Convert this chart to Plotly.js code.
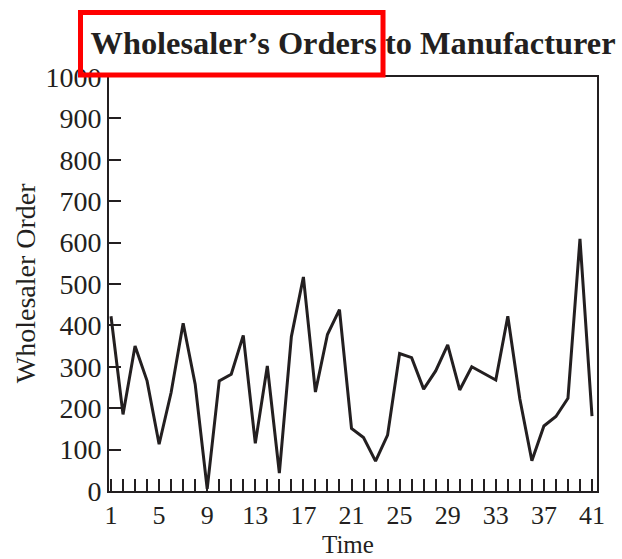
<!DOCTYPE html>
<html>
<head>
<meta charset="utf-8">
<script src="https://cdn.plot.ly/plotly-3.0.1.min.js"></script>
<style>html,body{margin:0;padding:0;background:#fff;}#chart{width:622px;height:559px;}</style>
</head>
<body>
<div id="chart"></div>
<script>
const time = [];
for (let t = 1; t <= 41; t++) time.push(t);
const wholesalerOrder = [422, 185, 350, 266, 113, 238, 405, 258, 5, 266,
  282, 376, 115, 302, 43, 373, 517, 239, 378, 438,
  151, 129, 72, 135, 332, 322, 246, 290, 353, 244,
  300, 284, 268, 422, 222, 73, 157, 180, 224, 609, 181];
const xTickVals = [1, 5, 9, 13, 17, 21, 25, 29, 33, 37, 41];
const yTickVals = [0, 100, 200, 300, 400, 500, 600, 700, 800, 900, 1000];
const chartTitle = "Wholesaler’s Orders to Manufacturer";
const xTitle = "Time";
const yTitle = "Wholesaler Order";

const ink = "#231f20";
const serif = "'Liberation Serif', 'Times New Roman', serif";

const trace = {
  x: time, y: wholesalerOrder, type: 'scatter', mode: 'lines',
  line: {color: ink, width: 3}, hoverinfo: 'skip'
};

const layout = {
  width: 622, height: 559,
  margin: {l: 109, r: 25, t: 77, b: 68},
  paper_bgcolor: '#fff', plot_bgcolor: '#fff',
  showlegend: false,
  title: {
    text: '<b>' + chartTitle + '</b>',
    font: {family: serif, size: 32.4, color: ink},
    xref: 'paper', x: 0.5, xanchor: 'center',
    yref: 'container', y: 0.924, yanchor: 'middle'
  },
  xaxis: {
    range: [0.834, 41.416], showgrid: false, zeroline: false,
    tickmode: 'array', tickvals: xTickVals,
    ticks: 'inside', ticklen: 12, tickwidth: 2, tickcolor: ink,
    minor: {tickmode: 'linear', tick0: 1, dtick: 1, ticks: 'inside', ticklen: 12, tickwidth: 2, tickcolor: ink},
    showline: true, linecolor: ink, linewidth: 2, mirror: true,
    tickfont: {family: serif, size: 26, color: ink}
  },
  yaxis: {
    range: [0, 1000], showgrid: false, zeroline: false,
    tickmode: 'array', tickvals: yTickVals,
    ticks: 'inside', ticklen: 12, tickwidth: 2, tickcolor: ink,
    showline: true, linecolor: ink, linewidth: 2, mirror: true,
    tickfont: {family: serif, size: 28, color: ink}
  },
  annotations: [
    {text: xTitle, xref: 'paper', yref: 'paper', x: 0.49, y: -0.1643,
     xanchor: 'center', yanchor: 'bottom', showarrow: false, borderpad: 0,
     font: {family: serif, size: 25, color: ink}},
    {text: yTitle, xref: 'paper', yref: 'paper', x: -0.172, y: 0.502,
     xanchor: 'center', yanchor: 'middle', showarrow: false, textangle: -90, borderpad: 0,
     font: {family: serif, size: 28, color: ink}}
  ],
  shapes: [{
    type: 'rect', xref: 'paper', yref: 'paper',
    x0: -0.0584, x1: 0.5615, y0: 1.0048, y1: 1.156,
    line: {color: '#ff0000', width: 5}, fillcolor: 'rgba(0,0,0,0)', layer: 'above'
  }]
};

Plotly.newPlot('chart', [trace], layout, {displayModeBar: false, staticPlot: true});
</script>
</body>
</html>
